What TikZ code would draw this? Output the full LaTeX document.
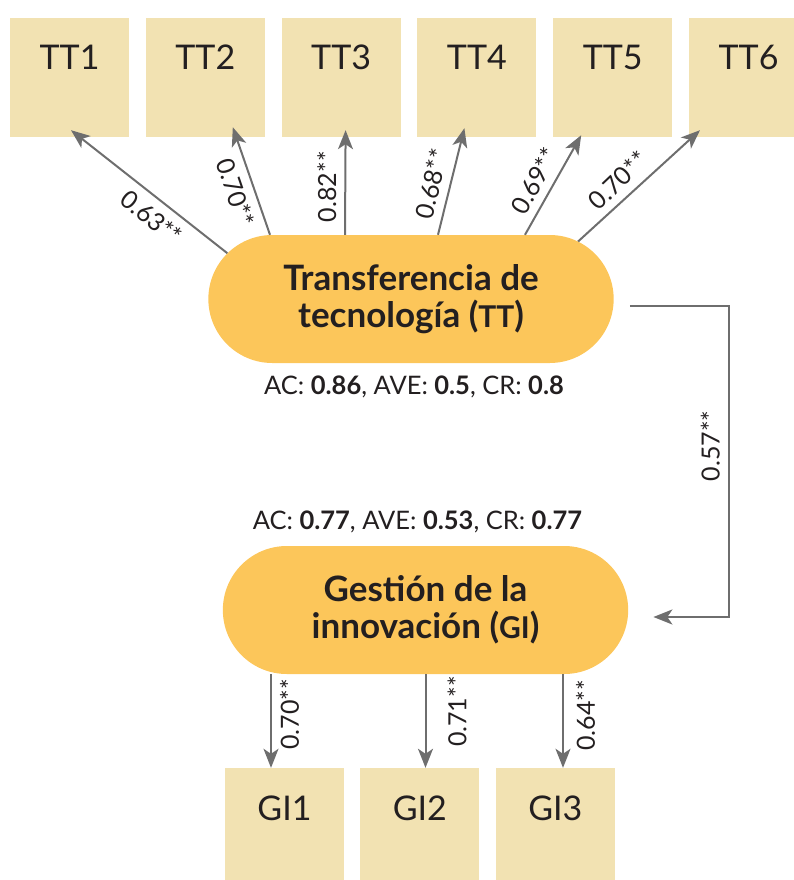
\documentclass[tikz,border=0pt]{standalone}
\usepackage{fontspec}
\setmainfont{Lato}
\usepackage{tikz}
\usetikzlibrary{arrows.meta,positioning,shapes.misc}
\definecolor{itemtan}{RGB}{242,226,178}
\definecolor{factoryellow}{RGB}{252,198,90}
\definecolor{inkdark}{RGB}{35,31,32}
\definecolor{linkgray}{RGB}{110,110,110}
\newcommand{\sig}{**}
\newcommand{\abbr}[1]{{\fontsize{30}{30}\selectfont #1}}
\tikzset{
  itembox/.style={
    fill=itemtan,minimum width=119pt,minimum height=119pt,inner sep=0pt,
    text height=25pt,text depth=40pt,text=inkdark,font=\fontsize{34}{34}\selectfont
  },
  factorbox/.style={
    shape=rounded rectangle,fill=factoryellow,minimum width=412pt,minimum height=128pt,
    align=center,text=inkdark,font=\fontsize{35}{37}\selectfont\bfseries
  },
  loadarrow/.style={-{Stealth[length=19pt,width=15pt,inset=5pt]},line width=2pt,draw=linkgray},
  loadlabel/.style={font=\fontsize{25}{25}\selectfont,text=inkdark,inner sep=8pt},
  statline/.style={font=\fontsize{25.5}{25.5}\selectfont,text=inkdark,inner sep=0pt}
}
\begin{document}
\begin{tikzpicture}[x=1pt,y=1pt,node distance=16.4pt]
  \useasboundingbox (0,0) rectangle (794,-880);
  \node[itembox] (tt1) at (69.5,-77.5) {TT1};
  \node[itembox,right=of tt1] (tt2) {TT2};
  \node[itembox,right=of tt2] (tt3) {TT3};
  \node[itembox,right=of tt3] (tt4) {TT4};
  \node[itembox,right=of tt4] (tt5) {TT5};
  \node[itembox,right=of tt5] (tt6) {TT6};
  \node[factorbox] (tt) at (411,-299) {Transferencia de\\tecnología (\abbr{TT})};
  \node[statline,below=12pt of tt,xshift=3pt] (ttfit) {AC: \textbf{0.86}, AVE: \textbf{0.5}, CR: \textbf{0.8}};
  \node[factorbox] (gi) at (425.5,-610) {Gestión de la\\innovación (\abbr{GI})};
  \node[statline,above=13pt of gi,xshift=-8pt] (gifit) {AC: \textbf{0.77}, AVE: \textbf{0.53}, CR: \textbf{0.77}};
  \node[itembox] (gi1) at (284.5,-827.5) {GI1};
  \node[itembox,right=16pt of gi1] (gi2) {GI2};
  \node[itembox,right=16pt of gi2] (gi3) {GI3};
  \draw[loadarrow] (tt.166) -- node[loadlabel,pos=.41,rotate=-39,below] {0.63\sig} ([xshift=1.5pt,yshift=7pt]tt1.south);
  \draw[loadarrow] ([xshift=-141pt]tt.north) -- node[loadlabel,pos=.45,rotate=-71,below] {0.70\sig} ([xshift=27.5pt,yshift=10pt]tt2.south);
  \draw[loadarrow] ([xshift=-66pt]tt.north) -- node[loadlabel,pos=.46,rotate=90,above] {0.82\sig} ([xshift=4.5pt,yshift=7pt]tt3.south);
  \draw[loadarrow] ([xshift=27pt]tt.north) -- node[loadlabel,pos=.44,rotate=77,above] {0.68\sig} ([xshift=-12.5pt,yshift=9pt]tt4.south);
  \draw[loadarrow] ([xshift=114pt]tt.north) -- node[loadlabel,pos=.45,rotate=61,above] {0.69\sig} ([xshift=-31.5pt,yshift=2pt]tt5.south);
  \draw[loadarrow] (tt.19) -- node[loadlabel,pos=.43,rotate=43.5,above] {0.70\sig} ([xshift=-48.5pt,yshift=7pt]tt6.south);
  \draw[loadarrow] ([xshift=16pt,yshift=-7pt]tt.east) -- ++(99,0) |- node[loadlabel,pos=.225,rotate=90,above] {0.57\sig} ([xshift=25pt,yshift=-7pt]gi.east);
  \draw[loadarrow] ([xshift=-154.5pt]gi.south) -- node[loadlabel,pos=.43,rotate=90,below] {0.70\sig} ([xshift=-154.5pt]gi.south |- gi1.north);
  \draw[loadarrow] (gi.south) -- node[loadlabel,pos=.40,rotate=90,below,inner sep=21pt] {0.71\sig} (gi.south |- gi2.north);
  \draw[loadarrow] ([xshift=137.5pt]gi.south) -- node[loadlabel,pos=.44,rotate=90,below,inner sep=12pt] {0.64\sig} ([xshift=137.5pt]gi.south |- gi3.north);
\end{tikzpicture}
\end{document}
